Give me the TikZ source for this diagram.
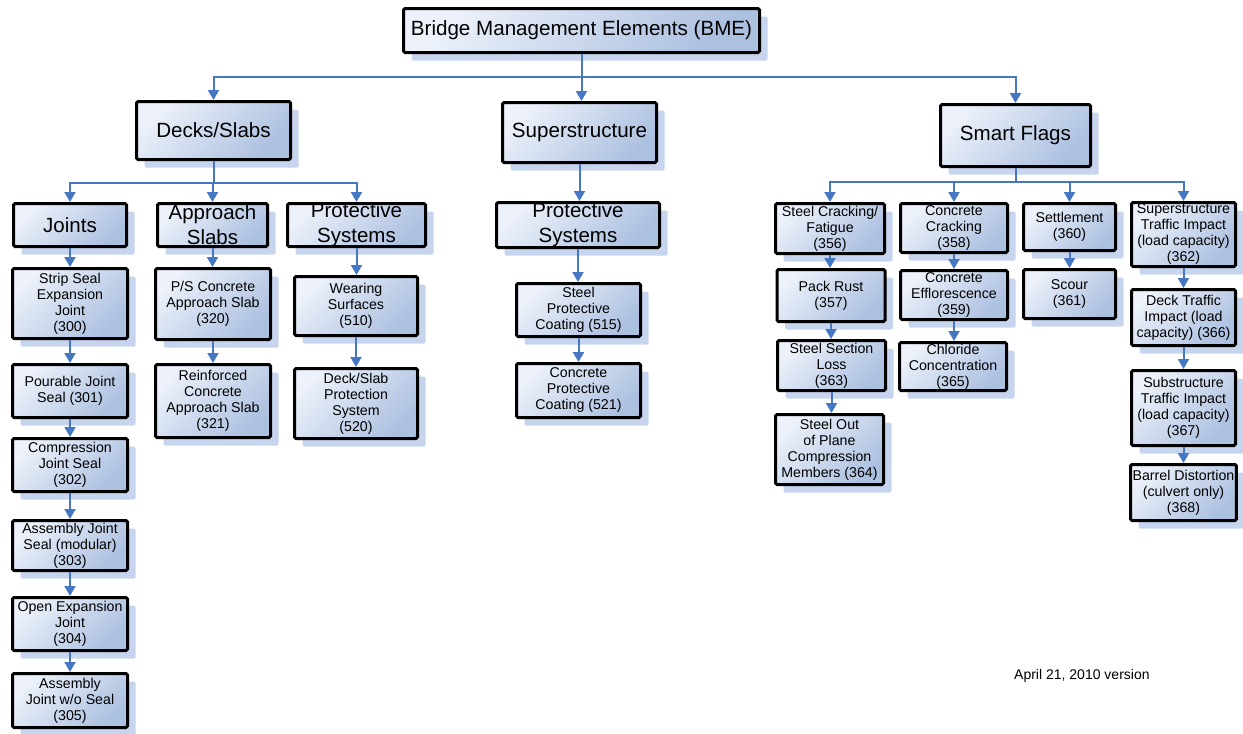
\documentclass[tikz,border=0pt]{standalone}
\usepackage{fontspec}
\setmainfont{Liberation Sans}
\usetikzlibrary{arrows.meta,shadows}

\definecolor{boxlight}{RGB}{236,241,250}
\definecolor{boxdark}{RGB}{172,192,224}
\definecolor{shadowblue}{RGB}{198,212,237}
\definecolor{connblue}{RGB}{70,119,195}

\tikzset{
  box/.style={draw=black, line width=3pt, rounded corners=1.5pt,
    top color=boxlight, bottom color=boxdark, shading angle=45,
    align=center, inner xsep=2pt, inner ysep=-8pt,
    drop shadow={shadow xshift=8pt, shadow yshift=-8pt, fill=shadowblue, opacity=1}},
  sz/.style 2 args={minimum width=#1pt-3pt, minimum height=#2pt-3pt},
  headbox/.style={box, font=\fontsize{20.6}{24}\selectfont},
  groupbox/.style={box, font=\fontsize{20.5}{25}\selectfont},
  itembox/.style={box, font=\fontsize{14.2}{16}\selectfont},
  conn/.style={draw=connblue, line width=2pt, -{Triangle[width=11pt,length=10pt]}},
  note/.style={font=\fontsize{14}{16}\selectfont, inner sep=0pt, anchor=west},
}

\begin{document}
\begin{tikzpicture}[x=1pt,y=-1pt]
\useasboundingbox (0,0) rectangle (1243,734);

% top level
\node[headbox, sz={359}{47}] (root) at (581.5,30.5) {Bridge Management Elements (BME)};
\node[headbox, sz={157}{61}] (decks) at (213.5,130.5) {Decks/Slabs};
\node[headbox, sz={157}{63}] (sup) at (579.5,132.5) {Superstructure};
\node[headbox, sz={153}{65}] (smart) at (1015.5,135.5) {Smart Flags};

% groups
\node[groupbox, sz={116}{46}] (joints) at (70,225) {Joints};
\node[groupbox, sz={113}{46}] (appr) at (212.5,225) {Approach\\Slabs};
\node[groupbox, sz={141}{46}] (dprot) at (356.5,225) {Protective\\Systems};
\node[groupbox, sz={166}{48}] (sprot) at (578,225) {Protective\\Systems};

% joints
\node[itembox, sz={118}{73}] (j300) at (70,303.5) {Strip Seal\\Expansion\\Joint\\(300)};
\node[itembox, sz={118}{56}] (j301) at (70,391) {Pourable Joint\\Seal (301)};
\node[itembox, sz={118}{56}] (j302) at (70,465) {Compression\\Joint Seal\\(302)};
\node[itembox, sz={118}{53}] (j303) at (70,545.5) {Assembly Joint\\Seal (modular)\\(303)};
\node[itembox, sz={118}{56}] (j304) at (70,624) {Open Expansion\\Joint\\(304)};
\node[itembox, sz={118}{57}] (j305) at (70,700.5) {Assembly\\Joint w/o Seal\\(305)};

% approach slabs
\node[itembox, sz={118}{74}] (a320) at (213,304) {P/S Concrete\\Approach Slab\\(320)};
\node[itembox, sz={118}{76}] (a321) at (213,401) {Reinforced\\Concrete\\Approach Slab\\(321)};

% deck protective systems
\node[itembox, sz={126}{62}] (p510) at (356,306) {Wearing\\Surfaces\\(510)};
\node[itembox, sz={126}{73}] (p520) at (356,403.5) {Deck/Slab\\Protection\\System\\(520)};

% superstructure protective systems
\node[itembox, sz={127}{56}] (s515) at (578.5,310) {Steel\\Protective\\Coating (515)};
\node[itembox, sz={127}{57}] (s521) at (578.5,390.5) {Concrete\\Protective\\Coating (521)};

% smart flags, steel
\node[itembox, sz={112}{53}] (f356) at (830,228.5) {Steel Cracking/\\Fatigue\\(356)};
\node[itembox, sz={111}{55}] (f357) at (831,295.5) {Pack Rust\\(357)};
\node[itembox, sz={111}{53}] (f363) at (831.5,365.5) {Steel Section\\Loss\\(363)};
\node[itembox, sz={111}{73}] (f364) at (829.5,449.5) {Steel Out\\of Plane\\Compression\\Members (364)};

% smart flags, concrete
\node[itembox, sz={110}{52}] (f358) at (954,228) {Concrete\\Cracking\\(358)};
\node[itembox, sz={110}{52}] (f359) at (954,295) {Concrete\\Efflorescence\\(359)};
\node[itembox, sz={110}{51}] (f365) at (953,366.5) {Chloride\\Concentration\\(365)};

% smart flags, substructure
\node[itembox, sz={95}{50}] (f360) at (1069.5,227) {Settlement\\(360)};
\node[itembox, sz={95}{52}] (f361) at (1069.5,294) {Scour\\(361)};

% smart flags, traffic
\node[itembox, sz={107}{67}] (f362) at (1183.5,234.5) {Superstructure\\Traffic Impact\\(load capacity)\\(362)};
\node[itembox, sz={107}{59}] (f366) at (1183.5,317.5) {Deck Traffic\\Impact (load\\capacity) (366)};
\node[itembox, sz={107}{78}] (f367) at (1183.5,408) {Substructure\\Traffic Impact\\(load capacity)\\(367)};
\node[itembox, sz={107}{59}] (f368) at (1183.5,492.5) {Barrel Distortion\\(culvert only)\\(368)};

\node[note] (ver) at (1014,676) {April 21, 2010 version};

% connectors from the root
\draw[conn] (root.south) -- (root.south |- sup.north);
\draw[conn] ([yshift=-23pt]root.south) -| (decks.north);
\draw[conn] ([yshift=-23pt]root.south) -| (smart.north);

% connectors from Decks/Slabs
\draw[conn] (decks.south) -- ([yshift=-22pt]decks.south) -| (joints.north);
\draw[conn] ([yshift=-22pt]decks.south) -| (appr.north);
\draw[conn] ([yshift=-22pt]decks.south) -| (dprot.north);

% connectors from Smart Flags
\draw[conn] (smart.south) -- ([yshift=-14pt]smart.south) -| (f356.north);
\draw[conn] ([yshift=-14pt]smart.south) -| (f358.north);
\draw[conn] ([yshift=-14pt]smart.south) -| (f360.north);
\draw[conn] ([yshift=-14pt]smart.south) -| (f362.north);

% vertical chains
\draw[conn] (sup.south) -- (sup.south |- sprot.north);
\foreach \a/\b in {joints/j300, j300/j301, j301/j302, j302/j303, j303/j304, j304/j305,
                   appr/a320, a320/a321, dprot/p510, p510/p520,
                   sprot/s515, s515/s521,
                   f356/f357, f357/f363, f363/f364,
                   f358/f359, f359/f365, f360/f361,
                   f362/f366, f366/f367, f367/f368}
  \draw[conn] (\a.south) -- (\a.south |- \b.north);
\end{tikzpicture}
\end{document}
